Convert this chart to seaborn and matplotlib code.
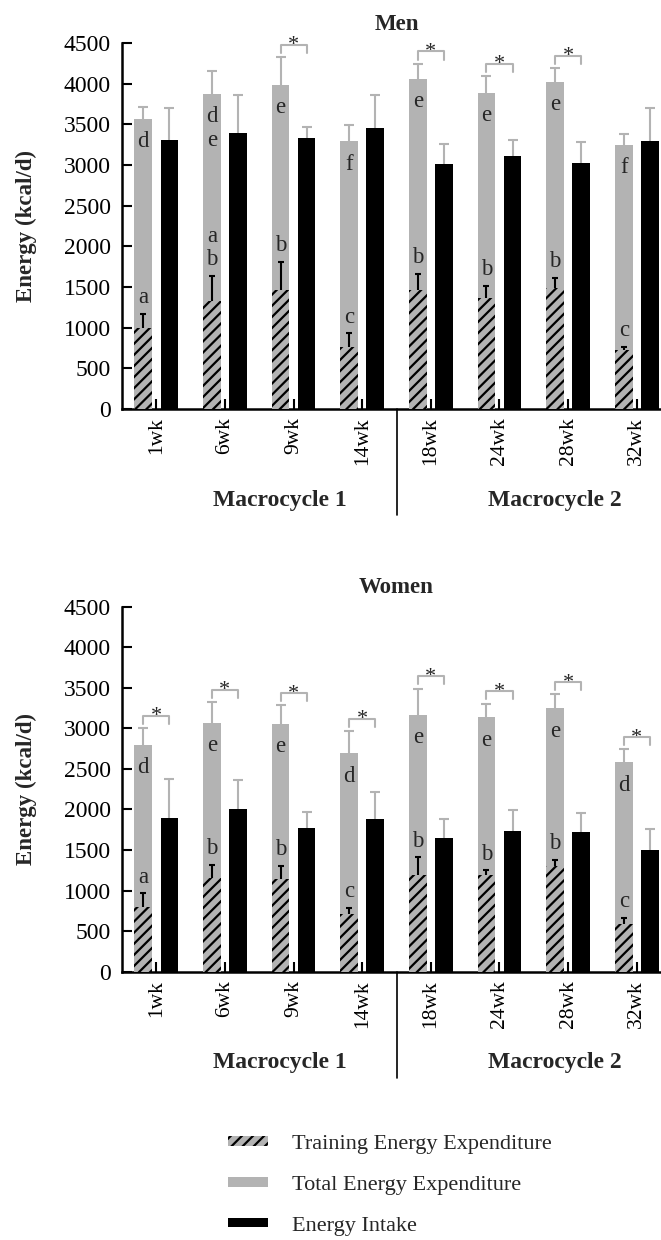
import numpy as np
import pandas as pd
import matplotlib
matplotlib.use("Agg")
import matplotlib.pyplot as plt
import matplotlib.transforms as mtransforms
from matplotlib.patches import Patch
import seaborn as sns

weeks = ['1wk', '6wk', '9wk', '14wk', '18wk', '24wk', '28wk', '32wk']

# Men (kcal/d), mean and SD
men_tee = [3570, 3870, 3980, 3290, 4060, 3890, 4020, 3250]
men_tee_sd = [140, 290, 350, 205, 185, 205, 175, 125]
men_ei = [3305, 3390, 3330, 3450, 3010, 3110, 3020, 3300]
men_ei_sd = [400, 465, 135, 405, 250, 200, 265, 405]
men_tree = [995, 1330, 1465, 765, 1465, 1360, 1485, 725]
men_tree_sd = [170, 305, 340, 165, 195, 150, 125, 40]
men_tee_letters = ['d', 'd\ne', 'e', 'f', 'e', 'e', 'e', 'f']
men_tree_letters = ['a', 'a\nb', 'b', 'c', 'b', 'b', 'b', 'c']
men_sig = [False, False, True, False, True, True, True, False]

# Women
women_tee = [2790, 3070, 3050, 2690, 3160, 3135, 3245, 2580]
women_tee_sd = [215, 255, 235, 280, 330, 170, 175, 160]
women_ei = [1900, 2010, 1775, 1880, 1645, 1735, 1725, 1505]
women_ei_sd = [470, 350, 195, 330, 235, 255, 235, 250]
women_tree = [800, 1150, 1140, 710, 1190, 1190, 1300, 585]
women_tree_sd = [165, 165, 165, 80, 220, 60, 80, 80]
women_tee_letters = ['d', 'e', 'e', 'd', 'e', 'e', 'e', 'd']
women_tree_letters = ['a', 'b', 'b', 'c', 'b', 'b', 'b', 'c']
women_sig = [True] * 8

macro_labels = ['Macrocycle 1', 'Macrocycle 2']
legend_labels = ['Training Energy Expenditure', 'Total Energy Expenditure', 'Energy Intake']

sns.set_style("white")
plt.rcParams['font.family'] = ['Liberation Serif', 'DejaVu Serif']
plt.rcParams['hatch.linewidth'] = 1.6
plt.rcParams['hatch.color'] = 'black'

GRAY = '#b3b3b3'
FS = 17


def draw_panel(ax, title, tee, tee_sd, ei, ei_sd, tree, tree_sd,
               tee_letters, tree_letters, sig):
    df = pd.DataFrame({'week': weeks * 2,
                       'energy': list(tee) + list(ei),
                       'kind': ['TEE'] * len(weeks) + ['EI'] * len(weeks)})
    sns.barplot(data=df, x='week', y='energy', hue='kind', hue_order=['TEE', 'EI'],
                palette=[GRAY, 'black'], width=0.76, gap=0.32, saturation=1,
                linewidth=0, legend=False, ax=ax, zorder=1)

    tee_bars, ei_bars = ax.containers[0], ax.containers[1]
    tee_x = np.array([b.get_x() + b.get_width() / 2 for b in tee_bars])
    ei_x = np.array([b.get_x() + b.get_width() / 2 for b in ei_bars])
    w = tee_bars[0].get_width()

    # training energy expenditure drawn over the total bars
    ax.bar(tee_x, tree, width=w, color=GRAY, edgecolor='black', linewidth=0,
           hatch='///', zorder=3)

    # one-sided error bars (lower half hidden behind the bars)
    ax.errorbar(tee_x, tee, yerr=tee_sd, fmt='none', ecolor=GRAY, elinewidth=1.5,
                capsize=3.5, capthick=1.5, zorder=0.5)
    ax.errorbar(ei_x, ei, yerr=ei_sd, fmt='none', ecolor=GRAY, elinewidth=1.5,
                capsize=3.5, capthick=1.5, zorder=0.5)
    ax.errorbar(tee_x, tree, yerr=tree_sd, fmt='none', ecolor='black', elinewidth=1.5,
                capsize=2.5, capthick=1.5, zorder=2)

    for i in range(len(weeks)):
        ax.text(tee_x[i], tee[i] - 150, tee_letters[i], ha='center', va='top',
                fontsize=16.5, linespacing=1.15, zorder=5)
        ax.text(tee_x[i], tree[i] + tree_sd[i] + 70, tree_letters[i], ha='center',
                va='bottom', fontsize=16.5, linespacing=1.15, zorder=5)
        if sig[i]:
            top = max(tee[i] + tee_sd[i], ei[i] + ei_sd[i]) + 150
            ax.plot([tee_x[i], tee_x[i], ei_x[i], ei_x[i]],
                    [top - 100, top, top, top - 100],
                    color=GRAY, lw=1.5, clip_on=False, zorder=4)
            ax.text((tee_x[i] + ei_x[i]) / 2, top - 70, '*', ha='center',
                    va='baseline', fontsize=16, clip_on=False)

    ax.set_xlim(-0.5, len(weeks) - 0.5)
    ax.set_ylim(0, 4500)
    ax.set_yticks(np.arange(0, 4501, 500))
    ax.set_xlabel('')
    ax.set_ylabel('Energy (kcal/d)', fontsize=16.5, fontweight='bold')
    ax.yaxis.set_label_coords(-0.155, 0.5)
    ax.set_title(title, fontsize=16.5, fontweight='bold', pad=9.5)

    sns.despine(ax=ax)
    for side in ['left', 'bottom']:
        ax.spines[side].set_linewidth(1.8)
        ax.spines[side].set_color('black')
    ax.tick_params(axis='y', direction='in', length=7, width=1.5, labelsize=FS,
                   pad=8, left=True, colors='black')
    ax.tick_params(axis='x', direction='in', length=7, width=1.5, labelsize=15.5,
                   pad=6, bottom=True, labelrotation=90, colors='black')

    trans = mtransforms.blended_transform_factory(ax.transData, ax.transAxes)
    ax.plot([3.5, 3.5], [0, -0.29], color='black', lw=1.2, transform=trans,
            clip_on=False)
    for xc, lab in zip([1.8, 5.8], macro_labels):
        ax.text(xc, -0.25, lab, transform=trans, ha='center', va='center',
                fontsize=FS, fontweight='bold')


fig = plt.figure(figsize=(6.61, 12.4), dpi=100)
ax1 = fig.add_axes([0.1846, 0.6702, 0.8306, 0.2952])
ax2 = fig.add_axes([0.1846, 0.2164, 0.8306, 0.2944])

draw_panel(ax1, 'Men', men_tee, men_tee_sd, men_ei, men_ei_sd, men_tree, men_tree_sd,
           men_tee_letters, men_tree_letters, men_sig)
draw_panel(ax2, 'Women', women_tee, women_tee_sd, women_ei, women_ei_sd, women_tree,
           women_tree_sd, women_tee_letters, women_tree_letters, women_sig)

handles = [Patch(facecolor=GRAY, edgecolor='black', hatch='///', linewidth=0,
                 label=legend_labels[0]),
           Patch(facecolor=GRAY, linewidth=0, label=legend_labels[1]),
           Patch(facecolor='black', linewidth=0, label=legend_labels[2])]
fig.legend(handles=handles, loc='upper left', bbox_to_anchor=(228 / 661, 1 - 1135 / 1240),
           frameon=False, fontsize=16, handlelength=1.8, handleheight=0.3,
           handletextpad=1.1, labelspacing=0.98, borderpad=0, borderaxespad=0)

fig.savefig('out.png', dpi=100)
